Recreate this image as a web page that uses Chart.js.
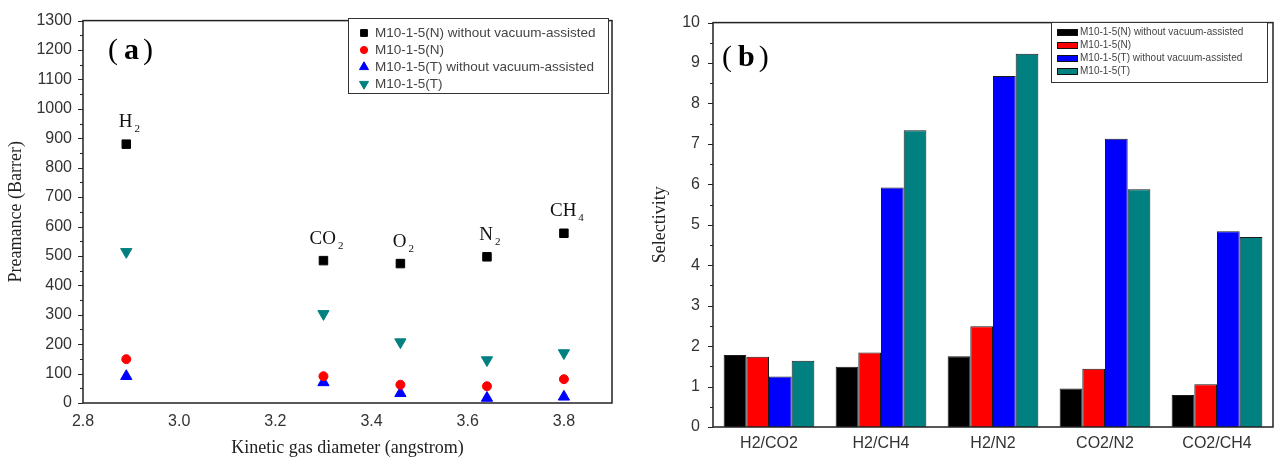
<!DOCTYPE html>
<html>
<head>
<meta charset="utf-8">
<script src="https://cdn.jsdelivr.net/npm/chart.js@4.4.1/dist/chart.umd.min.js"></script>
<style>
  body { margin: 0; background: #fff; }
  #wrap { position: relative; width: 1276px; height: 463px; }
  #chart-perm { position: absolute; left: 0; top: 0; }
  #chart-sel { position: absolute; left: 636px; top: 0; }
</style>
</head>
<body>
<div id="wrap">
  <canvas id="chart-perm" width="636" height="463"></canvas>
  <canvas id="chart-sel" width="640" height="463"></canvas>
</div>
<script>
// ---- data ----
const seriesNames = [
  'M10-1-5(N) without vacuum-assisted',
  'M10-1-5(N)',
  'M10-1-5(T) without vacuum-assisted',
  'M10-1-5(T)'
];
const seriesColors = ['#000000', '#ff0000', '#0000ff', '#008080'];

// (a) permeance vs kinetic diameter
const gasNames = ['H2', 'CO2', 'O2', 'N2', 'CH4'];
const gasDiameter = [2.89, 3.30, 3.46, 3.64, 3.80];
const permNnoVac = [880, 484, 474, 497, 577];
const permN = [149, 91, 62, 57, 81];
const permTnoVac = [91, 70, 33, 17, 21];
const permT = [514, 303, 207, 146, 170];
const diamTicks = [2.8, 3.0, 3.2, 3.4, 3.6, 3.8];

// (b) selectivity
const pairNames = ['H2/CO2', 'H2/CH4', 'H2/N2', 'CO2/N2', 'CO2/CH4'];
const selNnoVac = [1.78, 1.49, 1.75, 0.95, 0.79];
const selN = [1.74, 1.84, 2.49, 1.44, 1.06];
const selTnoVac = [1.25, 5.92, 8.68, 7.13, 4.84];
const selT = [1.64, 7.34, 9.23, 5.88, 4.70];

const SANS = '"Liberation Sans", Arial, sans-serif';
const SERIF = '"Liberation Serif", "Times New Roman", serif';

// box round the plot + outward major/minor ticks on the y axis
const frameTicks = {
  id: 'frameTicks',
  afterDraw(chart, args, opts) {
    const { ctx, chartArea: a } = chart;
    const y = chart.scales.y;
    ctx.save();
    ctx.strokeStyle = '#222';
    ctx.lineWidth = 1.5;
    ctx.strokeRect(a.left, a.top, a.right - a.left, a.bottom - a.top);
    ctx.lineWidth = 1;
    const n = Math.round((y.max - y.min) / opts.minorStep);
    for (let i = 0; i <= n; i++) {
      const v = y.min + i * opts.minorStep;
      const py = Math.round(y.getPixelForValue(v)) + 0.5;
      const major = i % 2 === 0;
      ctx.beginPath();
      ctx.moveTo(a.left, py);
      ctx.lineTo(a.left - (major ? 5 : 3), py);
      ctx.stroke();
    }
    ctx.restore();
  }
};

// "(a)" / "(b)" panel letters
const panelLetter = {
  id: 'panelLetter',
  afterDraw(chart, args, opts) {
    const ctx = chart.ctx;
    ctx.save();
    ctx.fillStyle = '#000';
    ctx.textBaseline = 'alphabetic';
    ctx.font = '30px ' + SERIF;
    ctx.fillText('(', opts.x, opts.y);
    ctx.font = 'bold 30px ' + SERIF;
    ctx.fillText(opts.letter, opts.x + 16, opts.y);
    const w = ctx.measureText(opts.letter).width;
    ctx.font = '30px ' + SERIF;
    ctx.fillText(')', opts.x + 20 + w, opts.y);
    ctx.restore();
  }
};

// legend box drawn inside the plot
const boxLegend = {
  id: 'boxLegend',
  afterDraw(chart, args, opts) {
    const ctx = chart.ctx;
    ctx.save();
    ctx.strokeStyle = '#333';
    ctx.lineWidth = 1;
    ctx.fillStyle = '#fff';
    ctx.fillRect(opts.left, opts.top, opts.width, opts.height);
    ctx.strokeRect(opts.left + 0.5, opts.top + 0.5, opts.width, opts.height);
    ctx.font = opts.fontSize + 'px ' + SANS;
    ctx.textBaseline = 'middle';
    chart.data.datasets.forEach((ds, i) => {
      const cy = opts.top + opts.firstRow + i * opts.rowGap;
      if (opts.swatch === 'marker') {
        ctx.fillStyle = ds.backgroundColor;
        ctx.strokeStyle = ds.backgroundColor;
        Chart.helpers.drawPoint(ctx, {
          pointStyle: ds.pointStyle,
          radius: ds.pointRadius * 0.8,
          rotation: ds.rotation || 0,
          borderWidth: 1
        }, opts.left + opts.markX, cy);
      } else {
        ctx.fillStyle = ds.backgroundColor;
        ctx.fillRect(opts.left + opts.markX, cy - 3, 21, 7);
        ctx.strokeStyle = '#111';
        ctx.strokeRect(opts.left + opts.markX + 0.5, cy - 2.5, 20, 6);
      }
      ctx.fillStyle = '#444';
      ctx.fillText(ds.label, opts.left + opts.textX, cy);
    });
    ctx.restore();
  }
};

// gas names with subscripts above the black squares
const gasLabels = {
  id: 'gasLabels',
  afterDatasetsDraw(chart) {
    const ctx = chart.ctx;
    const xs = chart.scales.x, ys = chart.scales.y;
    ctx.save();
    ctx.fillStyle = '#111';
    ctx.textBaseline = 'alphabetic';
    gasNames.forEach((name, i) => {
      const m = name.match(/^(\D+)(\d+)$/);
      const px = xs.getPixelForValue(gasDiameter[i]);
      const py = ys.getPixelForValue(permNnoVac[i]) - 17;
      ctx.font = '19px ' + SERIF;
      const wMain = ctx.measureText(m[1]).width;
      ctx.font = '11px ' + SERIF;
      const wSub = ctx.measureText(m[2]).width;
      const x0 = px - (wMain + wSub) / 2 + 2;
      ctx.font = '19px ' + SERIF;
      ctx.fillText(m[1], x0, py);
      ctx.font = '11px ' + SERIF;
      ctx.fillText(m[2], x0 + wMain + 2, py + 5);
    });
    ctx.restore();
  }
};

function pts(ys) {
  return gasDiameter.map((x, i) => ({ x: x, y: ys[i] }));
}

const tickFont = { family: SANS, size: 16 };
const tickColor = '#333';

// ---- (a) permeance ----
new Chart(document.getElementById('chart-perm'), {
  type: 'scatter',
  data: {
    datasets: [
      { label: seriesNames[0], data: pts(permNnoVac), pointStyle: 'rect', pointRadius: 6,
        backgroundColor: seriesColors[0], borderColor: seriesColors[0], borderWidth: 1 },
      { label: seriesNames[1], data: pts(permN), pointStyle: 'circle', pointRadius: 4.5,
        backgroundColor: seriesColors[1], borderColor: seriesColors[1], borderWidth: 1 },
      { label: seriesNames[2], data: pts(permTnoVac), pointStyle: 'triangle', pointRadius: 6.5,
        backgroundColor: seriesColors[2], borderColor: seriesColors[2], borderWidth: 1 },
      { label: seriesNames[3], data: pts(permT), pointStyle: 'triangle', pointRadius: 6.5, rotation: 180,
        backgroundColor: seriesColors[3], borderColor: seriesColors[3], borderWidth: 1 }
    ]
  },
  options: {
    responsive: false,
    animation: false,
    layout: { padding: { left: 0, right: 24, top: 16, bottom: 0 } },
    scales: {
      x: {
        type: 'linear', min: 2.8, max: 3.9,
        grid: { display: false, drawTicks: false },
        border: { display: false },
        afterBuildTicks: s => { s.ticks = diamTicks.map(v => ({ value: v })); },
        afterFit: s => { s.height = 60; },
        ticks: { font: tickFont, color: tickColor, padding: 9, callback: v => Number(v).toFixed(1) },
        title: { display: true, text: 'Kinetic gas diameter (angstrom)', color: '#222',
          font: { family: SERIF, size: 18 }, padding: { top: 0, bottom: 4 } }
      },
      y: {
        min: 0, max: 1300,
        grid: { display: false, drawTicks: false },
        border: { display: false },
        afterFit: s => { s.width = 83; },
        ticks: { stepSize: 100, font: tickFont, color: tickColor, padding: 11, callback: v => String(v) },
        title: { display: true, text: 'Preamance (Barrer)', color: '#222',
          font: { family: SERIF, size: 18 }, padding: { top: 5, bottom: 0 } }
      }
    },
    plugins: {
      legend: { display: false },
      tooltip: { enabled: false },
      frameTicks: { minorStep: 50 },
      panelLetter: { letter: 'a', x: 108, y: 59 },
      boxLegend: { swatch: 'marker', left: 348, top: 18, width: 260, height: 75,
        firstRow: 15, rowGap: 17, markX: 16, textX: 27, fontSize: 13.5 }
    }
  },
  plugins: [frameTicks, panelLetter, boxLegend, gasLabels]
});

// ---- (b) selectivity ----
new Chart(document.getElementById('chart-sel'), {
  type: 'bar',
  data: {
    labels: pairNames,
    datasets: [
      { label: seriesNames[0], data: selNnoVac, backgroundColor: seriesColors[0] },
      { label: seriesNames[1], data: selN, backgroundColor: seriesColors[1] },
      { label: seriesNames[2], data: selTnoVac, backgroundColor: seriesColors[2] },
      { label: seriesNames[3], data: selT, backgroundColor: seriesColors[3] }
    ]
  },
  options: {
    responsive: false,
    animation: false,
    datasets: { bar: { categoryPercentage: 0.81, barPercentage: 1.0, borderWidth: 1, borderColor: '#1a1a1a' } },
    layout: { padding: { left: 9, right: 3, top: 16, bottom: 0 } },
    scales: {
      x: {
        grid: { display: false, drawTicks: false },
        border: { display: false },
        afterFit: s => { s.height = 36; },
        ticks: { font: tickFont, color: tickColor, padding: 7 }
      },
      y: {
        min: 0, max: 10,
        grid: { display: false, drawTicks: false },
        border: { display: false },
        afterFit: s => { s.width = 68; },
        ticks: { stepSize: 1, font: tickFont, color: tickColor, padding: 13, callback: v => String(v) },
        title: { display: true, text: 'Selectivity', color: '#222',
          font: { family: SERIF, size: 18 }, padding: { top: 4, bottom: 0 } }
      }
    },
    plugins: {
      legend: { display: false },
      tooltip: { enabled: false },
      frameTicks: { minorStep: 0.5 },
      panelLetter: { letter: 'b', x: 86, y: 66 },
      boxLegend: { swatch: 'rect', left: 415, top: 22, width: 216, height: 60,
        firstRow: 10, rowGap: 13, markX: 6, textX: 29, fontSize: 10 }
    }
  },
  plugins: [frameTicks, panelLetter, boxLegend]
});
</script>
</body>
</html>
